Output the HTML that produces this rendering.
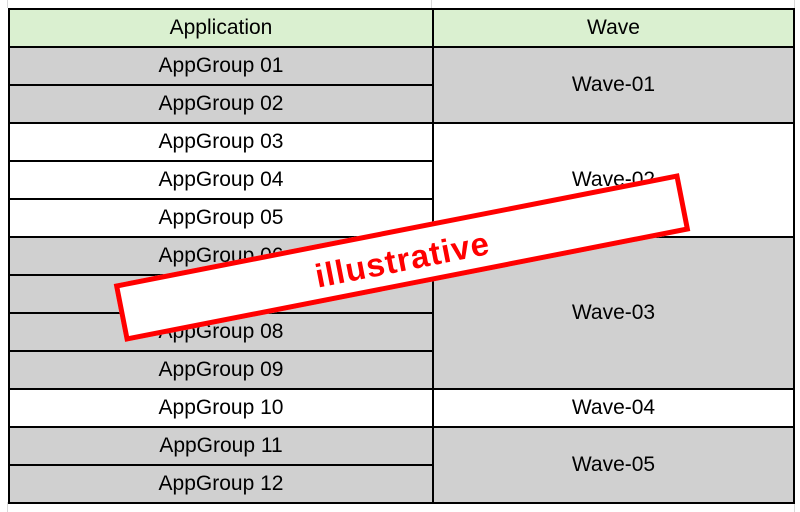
<!DOCTYPE html>
<html><head><style>
body{margin:0;width:800px;height:512px;background:#fff;position:relative;overflow:hidden;font-family:"Liberation Sans",sans-serif;}
.c{position:absolute;box-sizing:border-box;display:flex;align-items:center;justify-content:center;font-size:21px;color:#000;}
.g{background:#d0d0d0}.w{background:#fff}.h{background:#daf0d0}
.stamp{position:absolute;left:114px;top:228px;width:576px;height:59px;box-sizing:border-box;border:5px solid #f00;background:#fff;transform:rotate(-11.1deg);display:flex;align-items:center;justify-content:center;color:#f00;font-weight:bold;font-size:33px;letter-spacing:1px;padding-top:4px;}
.gl{position:absolute;background:#d8d8d8}
</style></head><body>
<div class="gl" style="left:7px;top:0;width:1px;height:8px"></div>
<div class="gl" style="left:7px;top:502px;width:1px;height:10px"></div>
<div class="gl" style="left:794px;top:0;width:1px;height:512px"></div>
<div class="gl" style="left:431px;top:0;width:1px;height:8px"></div>
<div id="t"></div>
<script>
var rows=[["Application","h"],["AppGroup 01","g"],["AppGroup 02","g"],["AppGroup 03","w"],["AppGroup 04","w"],["AppGroup 05","w"],["AppGroup 06","g"],["AppGroup 07","g"],["AppGroup 08","g"],["AppGroup 09","g"],["AppGroup 10","w"],["AppGroup 11","g"],["AppGroup 12","g"]];
var waves=[["Wave",0,1,"h"],["Wave-01",1,2,"g"],["Wave-02",3,3,"w"],["Wave-03",6,4,"g"],["Wave-04",10,1,"w"],["Wave-05",11,2,"g"]];
var h="";
rows.forEach(function(r,i){h+='<div class="c '+r[1]+'" style="left:8px;top:'+(8+i*38)+'px;width:426px;height:40px;border:2px solid #000">'+r[0]+'</div>';});
waves.forEach(function(w){h+='<div class="c '+w[3]+'" style="left:432px;top:'+(8+w[1]*38)+'px;width:363px;height:'+(w[2]*38+2)+'px;border:2px solid #000">'+w[0]+'</div>';});
document.getElementById("t").innerHTML=h;
</script>
<div class="stamp">illustrative</div>
</body></html>
